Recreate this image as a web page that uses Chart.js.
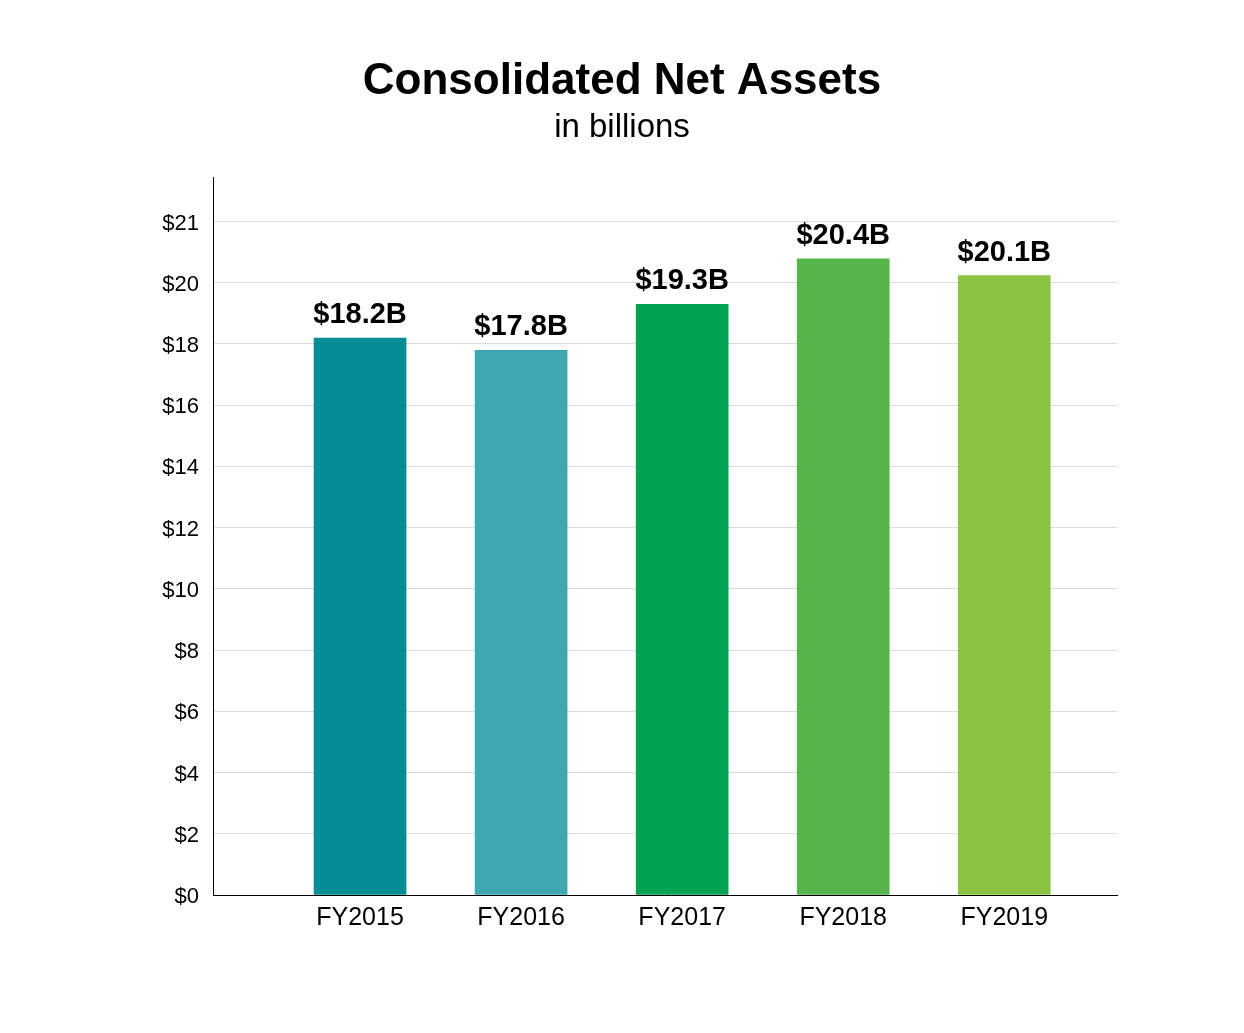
<!DOCTYPE html>
<html>
<head>
<meta charset="utf-8">
<script src="https://cdn.jsdelivr.net/npm/chart.js@4/dist/chart.umd.min.js"></script>
<style>
  html, body { margin: 0; padding: 0; background: #ffffff; }
  #wrap { width: 1244px; height: 1033px; }
</style>
</head>
<body>
<div id="wrap"><canvas id="c" width="1244" height="1033"></canvas></div>
<script>
const categories = ["FY2015", "FY2016", "FY2017", "FY2018", "FY2019"];
const barValues = [18.19, 17.79, 19.29, 20.78, 20.23];
const barLabels = ["$18.2B", "$17.8B", "$19.3B", "$20.4B", "$20.1B"];
const barColors = ["#068C94", "#3DA8B0", "#00A351", "#55B548", "#8BC443"];
const yTickValues = [0, 2, 4, 6, 8, 10, 12, 14, 16, 18, 20, 22];
const yTickLabels = ["$0", "$2", "$4", "$6", "$8", "$10", "$12", "$14", "$16", "$18", "$20", "$21"];

const FONT = "'Liberation Sans', Arial, Helvetica, sans-serif";

const valueLabelPlugin = {
  id: 'valueLabels',
  afterDatasetsDraw(chart) {
    const ctx = chart.ctx;
    const meta = chart.getDatasetMeta(0);
    ctx.save();
    ctx.font = "bold 29px " + FONT;
    ctx.fillStyle = "#000000";
    ctx.textAlign = "center";
    ctx.textBaseline = "alphabetic";
    meta.data.forEach((bar, i) => {
      ctx.fillText(barLabels[i], bar.x, bar.y - 15);
    });
    ctx.restore();
  }
};

new Chart(document.getElementById('c'), {
  type: 'bar',
  data: {
    datasets: [{
      data: categories.map((c, i) => ({ x: i, y: barValues[i] })),
      backgroundColor: barColors,
      borderWidth: 0,
      barThickness: 92
    }]
  },
  options: {
    responsive: false,
    animation: false,
    devicePixelRatio: 1,
    layout: { padding: 0 },
    plugins: {
      legend: { display: false },
      tooltip: { enabled: false },
      title: {
        display: true,
        text: "Consolidated Net Assets",
        color: "#000000",
        font: { family: FONT, size: 44, weight: 'bold', lineHeight: 1.2 },
        padding: { top: 55, bottom: 0 }
      },
      subtitle: {
        display: true,
        text: "in billions",
        color: "#000000",
        font: { family: FONT, size: 33, weight: 'normal', lineHeight: 1.2 },
        padding: { top: 0, bottom: 30 }
      }
    },
    scales: {
      x: {
        type: 'linear',
        offset: false,
        min: -0.913,
        max: 4.70,
        grid: { display: false, drawTicks: false, offset: false },
        border: { display: true, color: "#000000", width: 1 },
        afterBuildTicks(scale) {
          scale.ticks = categories.map((c, i) => ({ value: i }));
        },
        afterFit(scale) { scale.height = 138; },
        ticks: {
          padding: 8,
          color: "#000000",
          font: { family: FONT, size: 25 },
          callback: (v) => categories[v]
        }
      },
      y: {
        min: 0,
        max: 23.44,
        grid: { color: "#dddddd", lineWidth: 1, drawTicks: false },
        border: { display: true, color: "#000000", width: 1 },
        afterBuildTicks(scale) {
          scale.ticks = yTickValues.map(v => ({ value: v }));
        },
        afterFit(scale) { scale.width = 213; },
        ticks: {
          padding: 14,
          labelOffset: 2,
          color: "#000000",
          font: { family: FONT, size: 22 },
          callback: (v) => yTickLabels[yTickValues.indexOf(v)]
        }
      },
      yRight: {
        position: 'right',
        min: 0,
        max: 23.44,
        grid: { display: false, drawTicks: false },
        border: { display: false },
        ticks: { display: false },
        afterFit(scale) { scale.width = 127; }
      }
    }
  },
  plugins: [valueLabelPlugin]
});
</script>
</body>
</html>
